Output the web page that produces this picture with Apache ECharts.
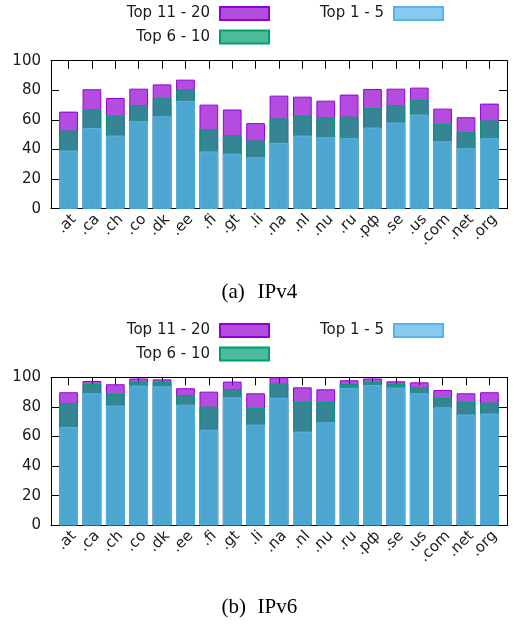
<!DOCTYPE html>
<html>
<head>
<meta charset="utf-8">
<script src="https://cdn.jsdelivr.net/npm/echarts@6/dist/echarts.min.js"></script>
<style>
html,body{margin:0;padding:0;background:#fff;}
#c{width:516px;height:624px;}
</style>
</head>
<body>
<div id="c"></div>
<script>
// ---- data ----
var categories = ['.at','.ca','.ch','.co','.dk','.ee','.fi','.gt','.li','.na','.nl','.nu','.ru','.pф','.se','.us','.com','.net','.org'];
var seriesNames = ['Top 11 - 20', 'Top 6 - 10', 'Top 1 - 5'];
// IPv4 (cumulative shares, %)
var ipv4Top20 = [65.6, 80.7, 74.8, 81.1, 84.0, 87.2, 70.3, 67.0, 57.8, 76.4, 75.7, 73.0, 77.1, 80.9, 81.1, 81.8, 67.6, 61.8, 71.0];
var ipv4Top10 = [52.8, 67.2, 62.9, 70.1, 74.6, 80.7, 53.7, 49.7, 46.1, 61.0, 62.9, 61.8, 62.2, 67.9, 70.1, 73.5, 57.3, 51.7, 59.6];
var ipv4Top5  = [39.3, 54.6, 49.4, 59.1, 62.5, 72.8, 38.7, 37.1, 34.8, 44.4, 49.4, 48.3, 47.6, 54.8, 58.2, 63.6, 45.6, 40.9, 47.6];
// IPv6 (cumulative shares, %)
var ipv6Top20 = [89.9, 97.5, 95.3, 99.2, 98.6, 92.6, 90.3, 97.1, 89.2, 100.0, 93.2, 91.9, 98.0, 99.2, 97.3, 96.6, 91.4, 89.2, 89.9];
var ipv6Top10 = [82.4, 95.5, 88.7, 97.1, 96.8, 88.1, 80.2, 92.1, 79.3, 95.9, 83.3, 83.3, 95.5, 96.8, 95.5, 93.2, 86.0, 83.3, 82.9];
var ipv6Top5  = [66.4, 89.2, 80.9, 94.4, 93.9, 81.5, 64.6, 86.5, 68.0, 86.2, 63.3, 69.6, 92.8, 94.8, 93.0, 89.2, 79.7, 74.8, 75.5];
var yMin = 0, yMax = 100, yStep = 20;
var captions = [['(a)', 'IPv4'], ['(b)', 'IPv6']];

// ---- styling ----
var FONT = 'DejaVu Sans';
var TXT = '#1a1a1a';
var fills = ['rgba(148,0,211,0.7)', 'rgba(0,158,115,0.7)', 'rgba(86,180,233,0.7)'];
var borders = ['#9400d3', '#009e73', '#56b4e9'];

var panels = [
  {top: 60.7, height: 148, data: [ipv4Top20, ipv4Top10, ipv4Top5], legendTop: [6, 29.5], capY: 293.5},
  {top: 377.3, height: 148, data: [ipv6Top20, ipv6Top10, ipv6Top5], legendTop: [323, 346.5], capY: 608.5}
];

var grids = [], xAxes = [], yAxes = [], series = [], legends = [], graphics = [];
function frameLine() { return {show: true, onZero: false, lineStyle: {color: '#000', width: 1}}; }
function tickStyle(extra) {
  return Object.assign({show: true, inside: true, length: 8, lineStyle: {color: '#000', width: 1}}, extra || {});
}

panels.forEach(function (p, pi) {
  var gFrame = grids.length;
  grids.push({left: 51, width: 456, top: p.top, height: p.height});
  var gBars = grids.length;
  grids.push({left: 56.85, right: 14.9, top: p.top, height: p.height});

  // frame grid axes (drawn as a box)
  xAxes.push({gridIndex: gFrame, type: 'value', min: 0, max: 1, position: 'bottom',
    axisLine: frameLine(), axisTick: {show: false}, axisLabel: {show: false}, splitLine: {show: false}});
  xAxes.push({gridIndex: gFrame, type: 'value', min: 0, max: 1, position: 'top',
    axisLine: frameLine(), axisTick: {show: false}, axisLabel: {show: false}, splitLine: {show: false}});
  yAxes.push({gridIndex: gFrame, type: 'value', min: yMin, max: yMax, interval: yStep, position: 'left',
    axisLine: frameLine(), splitLine: {show: false}, axisTick: tickStyle(),
    axisLabel: {margin: 10, fontFamily: FONT, fontSize: 15, color: TXT}});
  yAxes.push({gridIndex: gFrame, type: 'value', min: yMin, max: yMax, interval: yStep, position: 'right',
    axisLine: frameLine(), splitLine: {show: false}, axisTick: tickStyle(),
    axisLabel: {show: false}});

  // bar grid axes
  var xBottom = xAxes.length;
  xAxes.push({gridIndex: gBars, type: 'category', data: categories, position: 'bottom',
    axisLine: {show: false, onZero: false},
    axisTick: tickStyle({alignWithLabel: true, interval: 0}),
    axisLabel: {interval: 0, rotate: 45, margin: 3, verticalAlign: 'top', fontFamily: FONT, fontSize: 15, color: TXT}});
  xAxes.push({gridIndex: gBars, type: 'category', data: categories, position: 'top',
    axisLine: {show: false, onZero: false},
    axisTick: tickStyle({alignWithLabel: true, interval: 0}),
    axisLabel: {show: false}});
  var yBars = yAxes.length;
  yAxes.push({gridIndex: gBars, type: 'value', min: yMin, max: yMax, show: false});

  seriesNames.forEach(function (name, si) {
    series.push({
      name: name, type: 'bar', xAxisIndex: xBottom, yAxisIndex: yBars,
      data: p.data[si], barWidth: '80%', barGap: '-100%',
      itemStyle: {color: fills[si], borderColor: borders[si], borderWidth: 1},
      emphasis: {disabled: true}, animation: false
    });
  });

  var legBase = {orient: 'horizontal', align: 'right', padding: 0, itemWidth: 49, itemHeight: 13,
    selectedMode: false, icon: 'rect',
    textStyle: {fontFamily: FONT, fontSize: 15, color: TXT, padding: [0, 5, 0, 0]}};
  legends.push(Object.assign({}, legBase, {data: [seriesNames[0]], right: 246, top: p.legendTop[0]}));
  legends.push(Object.assign({}, legBase, {data: [seriesNames[2]], right: 72, top: p.legendTop[0]}));
  legends.push(Object.assign({}, legBase, {data: [seriesNames[1]], right: 246, top: p.legendTop[1]}));

  graphics.push({type: 'text', left: 221.5, top: p.capY - 12,
    style: {text: captions[pi][0], font: '21px "Liberation Serif"', fill: '#000'}});
  graphics.push({type: 'text', left: 257.5, top: p.capY - 12,
    style: {text: captions[pi][1], font: '21px "Liberation Serif"', fill: '#000'}});
});

var chart = echarts.init(document.getElementById('c'), null, {renderer: 'canvas'});
chart.setOption({
  animation: false,
  backgroundColor: '#fff',
  grid: grids, xAxis: xAxes, yAxis: yAxes, series: series, legend: legends, graphic: graphics
});
</script>
</body>
</html>
